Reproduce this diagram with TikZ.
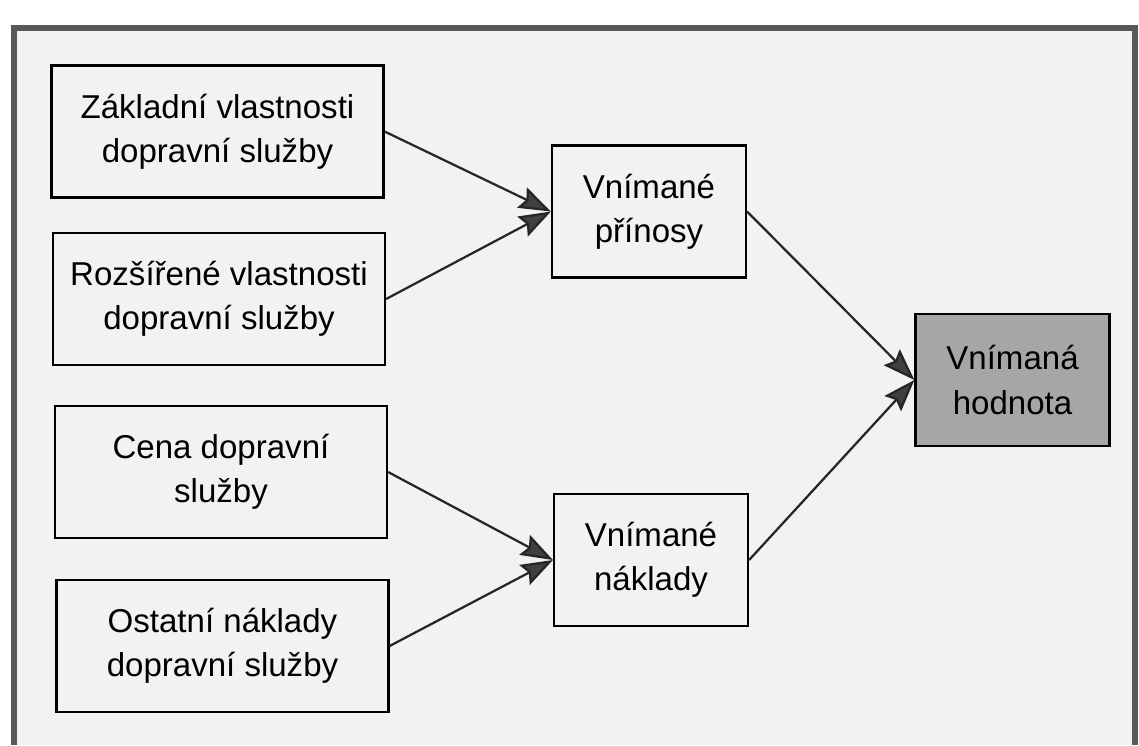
\documentclass[tikz,border=0pt]{standalone}
\usepackage{fontspec}
\setmainfont{Liberation Sans}
\usetikzlibrary{arrows.meta}

\begin{document}
\begin{tikzpicture}[x=0.025cm, y=-0.025cm,
	box/.style={draw, line width=1.5pt, minimum width=8.3cm, minimum height=3.3cm, inner sep=0pt, align=center, font=\fontsize{23.5}{31.5}\selectfont},
	sbox/.style={box, minimum width=4.85cm},
	arr/.style={line width=1.6pt, draw=black!85, -{Stealth[length=0.8cm, width=0.56cm, inset=0.12cm, fill=black!75]}}]
	\useasboundingbox (0,0) rectangle (1139,745);
	\fill[white] (0,0) rectangle (1139,745);
	\fill[black!5] (14,28) rectangle (1135,745);
	\draw[line width=3.6pt, black!65] (14,745) -- (14,28) -- (1135,28) -- (1135,745);

	\node[box] (zakl) at (217.5,131.5) {Základní vlastnosti\\dopravní služby};
	\node[box] (rozs) at (219,299) {Rozšířené vlastnosti\\dopravní služby};
	\node[box] (cena) at (221,472) {Cena dopravní\\služby};
	\node[box] (ost) at (222.5,646) {Ostatní náklady\\dopravní služby};

	\node[sbox] (prin) at (649,211.5) {Vnímané\\přínosy};
	\node[sbox] (nakl) at (651,560) {Vnímané\\náklady};
	\node[sbox, fill=black!35] (hodn) at (1012.5,380) {Vnímaná\\hodnota};

	\draw[arr] (zakl.east) -- (prin.west);
	\draw[arr] (rozs.east) -- (prin.west);
	\draw[arr] (cena.east) -- (nakl.west);
	\draw[arr] (ost.east) -- (nakl.west);
	\draw[arr] (prin.east) -- (hodn.west);
	\draw[arr] (nakl.east) -- (hodn.west);
\end{tikzpicture}
\end{document}
